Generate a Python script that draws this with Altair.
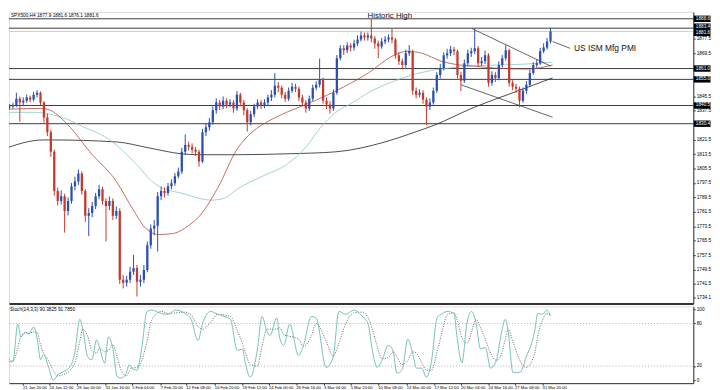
import altair as alt
import pandas as pd

# ---------------- price candles (one candle per ~2 H4 bars) ----------------
open_ = [1842.0, 1840.5, 1839.4, 1840.0, 1840.5, 1844.3, 1842.1, 1843.2, 1844.9, 1843.8,
         1846.5, 1847.6, 1842.1, 1833.9, 1825.7, 1814.8, 1793.0, 1787.5, 1790.2, 1782.0,
         1787.5, 1795.7, 1798.4, 1802.8, 1793.0, 1779.3, 1780.9, 1784.8, 1790.2, 1794.1,
         1787.5, 1784.8, 1787.5, 1779.3, 1782.0, 1743.8, 1742.1, 1743.8, 1748.2, 1750.3,
         1742.7, 1743.8, 1749.3, 1762.9, 1772.2, 1773.8, 1790.2, 1793.0, 1791.9, 1795.7,
         1797.3, 1801.2, 1803.9, 1814.8, 1818.6, 1817.6, 1815.9, 1814.8, 1809.4, 1825.7,
         1828.5, 1831.2, 1837.8, 1842.1, 1840.0, 1843.2, 1841.0, 1842.1, 1838.9, 1846.5,
         1842.1, 1837.8, 1831.2, 1835.6, 1840.0, 1842.1, 1840.5, 1842.1, 1844.9, 1846.5,
         1851.5, 1850.3, 1846.5, 1844.3, 1848.7, 1850.9, 1849.8, 1844.9, 1842.1, 1838.9,
         1844.3, 1850.3, 1852.0, 1855.0, 1843.2, 1841.0, 1838.9, 1847.6, 1866.7, 1872.2,
         1871.1, 1873.8, 1872.7, 1874.9, 1877.1, 1879.3, 1878.2, 1879.3, 1877.7, 1874.9,
         1873.3, 1876.0, 1877.1, 1878.2, 1877.1, 1868.4, 1865.1, 1862.9, 1869.5, 1870.6,
         1848.7, 1846.5, 1847.6, 1843.8, 1840.0, 1842.1, 1848.7, 1857.4, 1861.3, 1868.4,
         1869.5, 1871.6, 1870.6, 1857.4, 1854.2, 1864.0, 1869.5, 1870.6, 1872.2, 1864.0,
         1865.1, 1868.4, 1853.1, 1857.4, 1855.8, 1862.9, 1866.7, 1871.1, 1853.1, 1850.9,
         1849.8, 1843.2, 1848.7, 1852.0, 1858.5, 1862.9, 1864.0, 1870.6, 1872.7, 1876.0]

high = [1843.5, 1841.8, 1841.2, 1842.0, 1847.6, 1845.4, 1845.0, 1846.5, 1846.0, 1848.1,
        1849.0, 1848.3, 1843.0, 1836.0, 1827.0, 1816.0, 1795.0, 1793.5, 1791.5, 1789.5,
        1797.5, 1801.0, 1805.0, 1804.0, 1794.0, 1783.5, 1787.0, 1792.0, 1796.5, 1795.5,
        1789.0, 1790.0, 1789.0, 1784.5, 1783.5, 1746.5, 1746.0, 1751.0, 1757.5, 1752.0,
        1746.5, 1752.0, 1765.0, 1774.5, 1777.0, 1792.5, 1795.5, 1795.0, 1797.5, 1799.5,
        1803.0, 1806.0, 1817.0, 1824.5, 1820.5, 1819.5, 1817.5, 1816.0, 1827.5, 1830.5,
        1833.5, 1840.0, 1844.5, 1843.5, 1845.5, 1844.5, 1844.0, 1843.5, 1848.5, 1847.5,
        1843.5, 1839.0, 1837.5, 1841.5, 1844.0, 1843.5, 1844.0, 1846.5, 1849.0, 1858.5,
        1853.5, 1851.5, 1848.0, 1850.5, 1853.0, 1852.5, 1851.0, 1846.5, 1843.5, 1846.0,
        1852.0, 1854.0, 1866.5, 1856.0, 1845.0, 1843.0, 1849.5, 1868.5, 1874.0, 1874.0,
        1875.5, 1875.0, 1877.0, 1879.5, 1881.5, 1881.0, 1881.0, 1888.6, 1879.0, 1876.5,
        1878.0, 1879.0, 1880.0, 1883.1, 1878.0, 1870.0, 1866.5, 1871.5, 1874.0, 1871.5,
        1850.5, 1849.5, 1849.0, 1845.0, 1844.5, 1850.5, 1859.0, 1863.5, 1870.0, 1872.0,
        1873.5, 1873.0, 1871.5, 1859.0, 1866.0, 1871.5, 1872.5, 1883.1, 1873.5, 1867.5,
        1871.0, 1869.5, 1859.5, 1859.0, 1865.0, 1868.5, 1874.0, 1872.0, 1854.5, 1852.5,
        1851.0, 1850.5, 1854.0, 1860.5, 1864.5, 1866.0, 1872.5, 1875.0, 1878.0, 1883.5]

low = [1838.8, 1836.0, 1838.3, 1838.9, 1839.6, 1831.5, 1840.8, 1842.0, 1842.3, 1842.8,
       1845.0, 1840.5, 1831.0, 1823.5, 1812.0, 1790.5, 1785.0, 1785.5, 1770.0, 1779.5,
       1786.0, 1793.5, 1796.5, 1791.0, 1776.0, 1768.0, 1778.5, 1783.0, 1788.5, 1785.5,
       1765.0, 1782.5, 1777.0, 1777.5, 1741.5, 1739.0, 1740.0, 1742.0, 1746.5, 1734.5,
       1740.0, 1742.0, 1748.0, 1761.0, 1768.5, 1759.5, 1788.0, 1789.5, 1790.5, 1794.0,
       1796.0, 1800.0, 1802.5, 1813.0, 1815.5, 1814.0, 1812.5, 1806.5, 1808.5, 1823.5,
       1826.5, 1830.0, 1836.0, 1838.0, 1838.5, 1839.0, 1839.5, 1836.5, 1837.5, 1840.0,
       1835.0, 1826.0, 1829.5, 1834.0, 1838.5, 1838.5, 1839.0, 1840.5, 1843.0, 1845.0,
       1848.0, 1844.5, 1842.5, 1843.0, 1847.5, 1848.0, 1843.0, 1840.5, 1836.5, 1837.5,
       1843.0, 1849.0, 1850.5, 1841.5, 1838.5, 1836.0, 1837.5, 1846.5, 1865.5, 1868.5,
       1869.5, 1870.5, 1871.0, 1873.5, 1876.0, 1876.5, 1876.5, 1875.5, 1872.0, 1866.8,
       1872.0, 1874.5, 1875.5, 1875.0, 1866.5, 1863.0, 1860.5, 1861.5, 1868.0, 1846.5,
       1844.5, 1845.0, 1841.5, 1829.6, 1838.0, 1841.0, 1847.5, 1855.5, 1860.0, 1866.5,
       1868.0, 1868.5, 1855.5, 1848.5, 1853.0, 1862.5, 1867.5, 1869.0, 1862.0, 1862.5,
       1863.5, 1851.0, 1851.5, 1853.5, 1854.5, 1861.5, 1865.5, 1851.0, 1849.0, 1847.5,
       1839.5, 1842.0, 1847.0, 1851.0, 1857.5, 1861.5, 1863.0, 1869.5, 1871.5, 1875.0]

close = [1840.5, 1839.4, 1840.0, 1840.5, 1844.3, 1842.1, 1843.2, 1844.9, 1843.8, 1846.5,
         1847.6, 1842.1, 1833.9, 1825.7, 1814.8, 1793.0, 1787.5, 1790.2, 1782.0, 1787.5,
         1795.7, 1798.4, 1802.8, 1793.0, 1779.3, 1780.9, 1784.8, 1790.2, 1794.1, 1787.5,
         1784.8, 1787.5, 1779.3, 1782.0, 1743.8, 1742.1, 1743.8, 1748.2, 1750.3, 1742.7,
         1743.8, 1749.3, 1762.9, 1772.2, 1773.8, 1790.2, 1793.0, 1791.9, 1795.7, 1797.3,
         1801.2, 1803.9, 1814.8, 1818.6, 1817.6, 1815.9, 1814.8, 1809.4, 1825.7, 1828.5,
         1831.2, 1837.8, 1842.1, 1840.0, 1843.2, 1841.0, 1842.1, 1838.9, 1846.5, 1842.1,
         1837.8, 1831.2, 1835.6, 1840.0, 1842.1, 1840.5, 1842.1, 1844.9, 1846.5, 1851.5,
         1850.3, 1846.5, 1844.3, 1848.7, 1850.9, 1849.8, 1844.9, 1842.1, 1838.9, 1844.3,
         1850.3, 1852.0, 1855.0, 1843.2, 1841.0, 1838.9, 1847.6, 1866.7, 1872.2, 1871.1,
         1873.8, 1872.7, 1874.9, 1877.1, 1879.3, 1878.2, 1879.3, 1877.7, 1874.9, 1873.3,
         1876.0, 1877.1, 1878.2, 1877.1, 1868.4, 1865.1, 1862.9, 1869.5, 1870.6, 1848.7,
         1846.5, 1847.6, 1843.8, 1840.0, 1842.1, 1848.7, 1857.4, 1861.3, 1868.4, 1869.5,
         1871.6, 1870.6, 1857.4, 1854.2, 1864.0, 1869.5, 1870.6, 1872.2, 1864.0, 1865.1,
         1868.4, 1853.1, 1857.4, 1855.8, 1862.9, 1866.7, 1871.1, 1853.1, 1850.9, 1849.8,
         1843.2, 1848.7, 1852.0, 1858.5, 1862.9, 1864.0, 1870.6, 1872.7, 1876.0, 1881.6]

# ---------------- moving averages (bar position, price) ----------------
ma_red_idx = [-0.4, 11.0, 13.9, 16.7, 19.6, 25.3, 33.0, 38.1, 41.6, 45.3, 49.6, 53.9, 56.7,
              62.4, 68.1, 72.4, 77.6, 82.4, 87.3, 93.9, 99.6, 106.1, 113.0, 117.6, 121.6,
              127.3, 133.0, 136.7, 142.4, 151.9, 159.6]
ma_red = [1838.3, 1838.9, 1837.8, 1834.0, 1828.5, 1814.8, 1798.4, 1782.0, 1772.2, 1768.9,
          1769.5, 1773.8, 1778.2, 1794.6, 1816.5, 1825.7, 1832.3, 1836.7, 1840.5, 1846.0,
          1851.4, 1858.5, 1867.8, 1870.6, 1869.5, 1865.1, 1862.9, 1862.4, 1861.3, 1860.7,
          1862.9]

ma_teal_idx = [-0.4, 9.0, 13.9, 18.7, 22.4, 31.9, 38.1, 44.4, 53.0, 60.4, 64.4, 68.1, 75.3,
               82.4, 88.1, 91.9, 96.7, 101.6, 106.1, 112.4, 118.7, 125.3, 136.7, 151.9, 159.6]
ma_teal = [1836.7, 1836.7, 1835.6, 1832.9, 1829.6, 1820.3, 1809.4, 1796.8, 1791.3, 1788.0,
           1789.1, 1794.1, 1801.2, 1807.7, 1817.6, 1827.4, 1836.7, 1842.1, 1847.6, 1853.1,
           1857.4, 1860.2, 1862.4, 1863.5, 1864.5]

ma_black_idx = [-0.4, 11.9, 13.9, 33.0, 42.4, 51.9, 56.7, 68.1, 82.4, 96.7, 111.0, 119.6,
                125.3, 136.7, 148.1, 159.6]
ma_black = [1815.9, 1821.4, 1821.4, 1820.3, 1817.0, 1813.7, 1813.2, 1813.2, 1813.7, 1814.8,
            1820.3, 1825.7, 1829.6, 1839.4, 1847.6, 1855.8]

# ---------------- drawn lines & levels ----------------
levels = [1888.6, 1883.4, 1861.0, 1855.0, 1840.5, 1830.4]
current_price = 1881.6
trend_seg = ["upper", "upper", "lower", "lower"]
trend_idx = [136.3, 159.0, 133.0, 159.6]
trend_val = [1883.1, 1862.4, 1852.0, 1834.0]
pointer_idx = [159.6, 164.7]
pointer_val = [1876.0, 1872.2]

price_ticks = [1877.5, 1869.5, 1845.5, 1837.5, 1821.5, 1813.5, 1805.5, 1797.5,
               1789.5, 1781.5, 1773.5, 1765.5, 1757.5, 1749.5, 1741.5, 1734.1]

# ---------------- stochastic (14,3,3) ----------------
stoch_idx = [-0.4, 1.0, 3.0, 4.4, 5.3, 6.7, 7.6, 9.0, 10.1, 11.0,
             11.9, 13.3, 14.7, 16.1, 17.6, 19.6, 21.0, 22.4, 23.3, 24.7,
             25.9, 27.3, 28.1, 29.6, 30.7, 31.9, 33.3, 34.4, 35.9, 36.7,
             37.3, 39.0, 40.4, 41.9, 43.3, 46.1, 48.1, 50.1, 53.0, 54.7,
             56.7, 58.1, 60.4, 62.4, 66.1, 68.1, 69.6, 70.4, 71.9, 73.9,
             75.3, 76.7, 77.6, 79.6, 80.4, 81.6, 83.3, 85.9, 87.3, 89.6,
             91.0, 93.9, 95.9, 97.6, 99.6, 101.9, 104.4, 106.1, 107.3, 108.7,
             110.1, 111.9, 113.3, 114.4, 115.9, 117.6, 119.0, 120.1, 121.6, 123.0,
             124.4, 126.1, 127.6, 129.0, 131.0, 131.9, 133.3, 134.7, 136.1, 137.3,
             138.7, 140.1, 141.6, 143.3, 144.7, 145.9, 146.7, 148.1, 150.1, 151.9,
             154.4, 155.3, 156.7, 157.9, 159.0]
stoch_k = [38, 26, 26, 79, 61, 68, 65, 75, 57, 29,
           36, 19, 0, 8, 12, 19, 40, 86, 71, 33,
           29, 57, 47, 24, 61, 47, 5, 3, 10, 22,
           18, 14, 46, 97, 99, 94, 93, 99, 94, 86,
           56, 81, 97, 93, 86, 42, 44, 25, 4, 42,
           90, 69, 63, 88, 60, 49, 79, 35, 49, 90,
           88, 18, 32, 97, 93, 99, 90, 79, 42, 18,
           28, 49, 42, 10, 14, 58, 38, 17, 17, 4,
           25, 88, 94, 97, 94, 60, 25, 79, 97, 83,
           44, 46, 17, 28, 65, 86, 69, 11, 11, 32,
           69, 94, 93, 99, 90.4]
stoch_d = [42, 33, 27, 45, 62, 67, 66, 68, 67, 50,
           38, 28, 14, 6, 8, 14, 25, 55, 72, 62,
           42, 38, 46, 40, 42, 50, 32, 14, 6, 12,
           17, 18, 28, 55, 85, 97, 94, 95, 96, 92,
           76, 72, 82, 93, 90, 70, 52, 40, 22, 20,
           48, 72, 72, 72, 74, 64, 62, 58, 48, 62,
           80, 55, 34, 52, 80, 95, 96, 88, 72, 48,
           30, 32, 40, 33, 22, 28, 40, 38, 25, 14,
           14, 40, 70, 92, 95, 85, 60, 52, 68, 86,
           74, 58, 38, 28, 36, 58, 72, 54, 28, 18,
           38, 62, 85, 94, 91.8]
stoch_levels = [20, 80]
stoch_ticks = [0, 20, 80, 100]

time_idx = [5.9, 13.6, 21.6, 29.9, 37.6, 45.9, 53.3, 61.6, 69.6, 77.3,
            85.3, 93.3, 101.0, 109.0, 117.3, 125.3, 133.0, 141.0, 148.7, 156.7]
time_labels = ["21 Jan 20:00", "24 Jan 12:00", "29 Jan 00:00", "31 Jan 16:00", "5 Feb 04:00",
               "7 Feb 20:00", "12 Feb 08:00", "16 Feb 20:00", "19 Feb 12:00", "24 Feb 00:00",
               "26 Feb 16:00", "3 Mar 04:00", "5 Mar 20:00", "10 Mar 08:00", "13 Mar 00:00",
               "17 Mar 12:00", "20 Mar 04:00", "24 Mar 16:00", "27 Mar 08:00", "31 Mar 20:00"]

header = "SPX500,H4  1877.9 1881.6 1876.1 1881.6"
stoch_title = "Stoch(14,3,3) 90.3825 91.7850"

# ---------------- layout / style ----------------
W, HP, HS = 695, 296, 78
FONT = "Liberation Sans"
SMALL = 4.8
TINY = 4.2
UP, DOWN = "#2a4fb0", "#c23a2e"

xs = alt.Scale(domain=[1.857, 200.43], nice=False, zero=False)
ps = alt.Scale(domain=[1730.7, 1892.4], nice=False, zero=False)
ss = alt.Scale(domain=[-4.2, 104.2], nice=False, zero=False)

price_axis = alt.Axis(orient="right", values=price_ticks, format=".1f", labelFontSize=SMALL,
                      labelFont=FONT, labelColor="#000", tickSize=2, tickColor="#333",
                      domain=True, domainColor="#333", grid=False, title=None,
                      labelPadding=1, labelOverlap=False)
XP = alt.X("i:Q", scale=xs, axis=alt.Axis(orient="bottom", labels=False, ticks=False,
                                            domain=True, domainWidth=2, domainColor="#333",
                                            grid=False, title=None))


def PY(field):
    return alt.Y(field, type="quantitative", scale=ps, axis=price_axis)


candles = pd.DataFrame({"i": list(range(len(close))), "open": open_, "high": high,
                        "low": low, "close": close})
candles["dir"] = ["up" if c >= o else "down" for o, c in zip(open_, close)]
dir_color = alt.Color("dir:N", scale=alt.Scale(domain=["up", "down"], range=[UP, DOWN]),
                      legend=None)

lv_df = pd.DataFrame({"p": levels})
cur_df = pd.DataFrame({"p": [current_price]})
box_main_df = pd.DataFrame({"p": [levels[0]] + levels[2:]})
box_hi_df = pd.DataFrame({"p": [levels[1]]})
box_cur_df = pd.DataFrame({"p": [current_price]})
red_df = pd.DataFrame({"i": ma_red_idx, "p": ma_red})
teal_df = pd.DataFrame({"i": ma_teal_idx, "p": ma_teal})
black_df = pd.DataFrame({"i": ma_black_idx, "p": ma_black})
trend_df = pd.DataFrame({"seg": trend_seg, "i": trend_idx, "p": trend_val})
ptr_df = pd.DataFrame({"i": pointer_idx, "p": pointer_val})
hh_df = pd.DataFrame({"i": [105.9], "p": [1889.9], "t": ["Historic High"]})
ism_df = pd.DataFrame({"i": [165.8], "p": [1872.2], "t": ["US ISM Mfg PMI"]})

levels_layer = alt.Chart(lv_df).mark_rule(color="#3a3a3a", strokeWidth=1).encode(y=PY("p"))
cur_layer = alt.Chart(cur_df).mark_rule(color="#cccccc", strokeWidth=1).encode(y=PY("p"))
red_layer = alt.Chart(red_df).mark_line(color="#b24a40", strokeWidth=0.8, clip=True,
                                        interpolate="monotone").encode(x=XP, y=PY("p"))
teal_layer = alt.Chart(teal_df).mark_line(color="#8cc6ca", strokeWidth=0.8, clip=True,
                                          interpolate="monotone").encode(x=XP, y=PY("p"))
black_layer = alt.Chart(black_df).mark_line(color="#1e1e1e", strokeWidth=0.8, clip=True,
                                            interpolate="monotone").encode(x=XP, y=PY("p"))
trend_layer = alt.Chart(trend_df).mark_line(color="#222", strokeWidth=0.7, clip=True).encode(
    x=XP, y=PY("p"), detail="seg:N")
wick_layer = alt.Chart(candles).mark_rule(strokeWidth=1, clip=True).encode(
    x=XP, y=PY("low"), y2="high:Q", color=dir_color)
body_layer = alt.Chart(candles).mark_rule(strokeWidth=2.3, clip=True).encode(
    x=XP, y=PY("open"), y2="close:Q", color=dir_color)
ptr_layer = alt.Chart(ptr_df).mark_line(color="#222", strokeWidth=0.7).encode(x=XP, y=PY("p"))
hh_layer = alt.Chart(hh_df).mark_text(align="left", baseline="middle", fontSize=8, font=FONT,
                                      color="#111").encode(x=XP, y=PY("p"), text="t:N")
ism_layer = alt.Chart(ism_df).mark_text(align="left", baseline="middle", fontSize=8.5,
                                        font=FONT, color="#111").encode(x=XP, y=PY("p"),
                                                                        text="t:N")


def price_box(df, dy):
    box = alt.Chart(df).mark_tick(orient="horizontal", size=17, thickness=6.5, color="#000",
                                  opacity=1, yOffset=dy).encode(x=alt.value(W + 9), y=PY("p"))
    txt = alt.Chart(df).mark_text(align="left", baseline="middle", fontSize=SMALL, font=FONT,
                                  color="white", dy=dy).encode(
        x=alt.value(W + 2.5), y=PY("p"), text=alt.Text("p:Q", format=".1f"))
    return [box, txt]


header_layer = alt.Chart(pd.DataFrame({"t": [header]})).mark_text(
    align="left", baseline="middle", fontSize=SMALL, font=FONT, color="#000").encode(
    x=alt.value(2), y=alt.value(4), text="t:N")

price = alt.layer(levels_layer, cur_layer, black_layer, teal_layer, red_layer, trend_layer,
                  wick_layer, body_layer, ptr_layer, hh_layer, ism_layer,
                  *price_box(box_main_df, 0), *price_box(box_hi_df, -1.5),
                  *price_box(box_cur_df, 1.5),
                  header_layer).properties(width=W, height=HP)

# ---------------- stochastic panel ----------------
XS = alt.X("i:Q", scale=xs, axis=alt.Axis(orient="bottom", values=time_idx, labels=False,
                                            ticks=True, tickSize=2, tickColor="#333",
                                            domain=True, domainColor="#333", grid=False,
                                            title=None))
stoch_axis = alt.Axis(orient="right", values=stoch_ticks, format="d", labelFontSize=SMALL,
                      labelFont=FONT, labelColor="#000", tickSize=2, tickColor="#333",
                      domain=True, domainColor="#333", grid=False, title=None,
                      labelPadding=1, labelOverlap=False)


def SY(field):
    return alt.Y(field, type="quantitative", scale=ss, axis=stoch_axis)


st_df = pd.DataFrame({"i": stoch_idx, "k": stoch_k, "d": stoch_d})
sl_df = pd.DataFrame({"v": stoch_levels})
tl_df = pd.DataFrame({"i": time_idx, "t": time_labels})

sl_layer = alt.Chart(sl_df).mark_rule(color="#b0b0b0", strokeWidth=1,
                                      strokeDash=[1, 2]).encode(y=SY("v"))
k_layer = alt.Chart(st_df).mark_line(color="#66b9b2", strokeWidth=0.9, clip=True,
                                     interpolate="monotone").encode(x=XS, y=SY("k"))
d_layer = alt.Chart(st_df).mark_line(color="#555", strokeWidth=0.9, strokeDash=[1, 1.5],
                                     clip=True, interpolate="monotone").encode(x=XS, y=SY("d"))
st_title = alt.Chart(pd.DataFrame({"t": [stoch_title]})).mark_text(
    align="left", baseline="middle", fontSize=SMALL, font=FONT, color="#000").encode(
    x=alt.value(1), y=alt.value(4), text="t:N")
tl_layer = alt.Chart(tl_df).mark_text(align="left", baseline="middle", fontSize=TINY,
                                      font=FONT, color="#000").encode(
    x=XS, y=alt.value(HS + 5), text="t:N")

stoch = alt.layer(sl_layer, d_layer, k_layer, st_title, tl_layer).properties(width=W, height=HS)

chart = alt.vconcat(price, stoch, spacing=1).properties(padding=0).configure_view(
    stroke=None).configure(background="white")

chart.save("out.html", embed_options={"renderer": "svg", "actions": False})
